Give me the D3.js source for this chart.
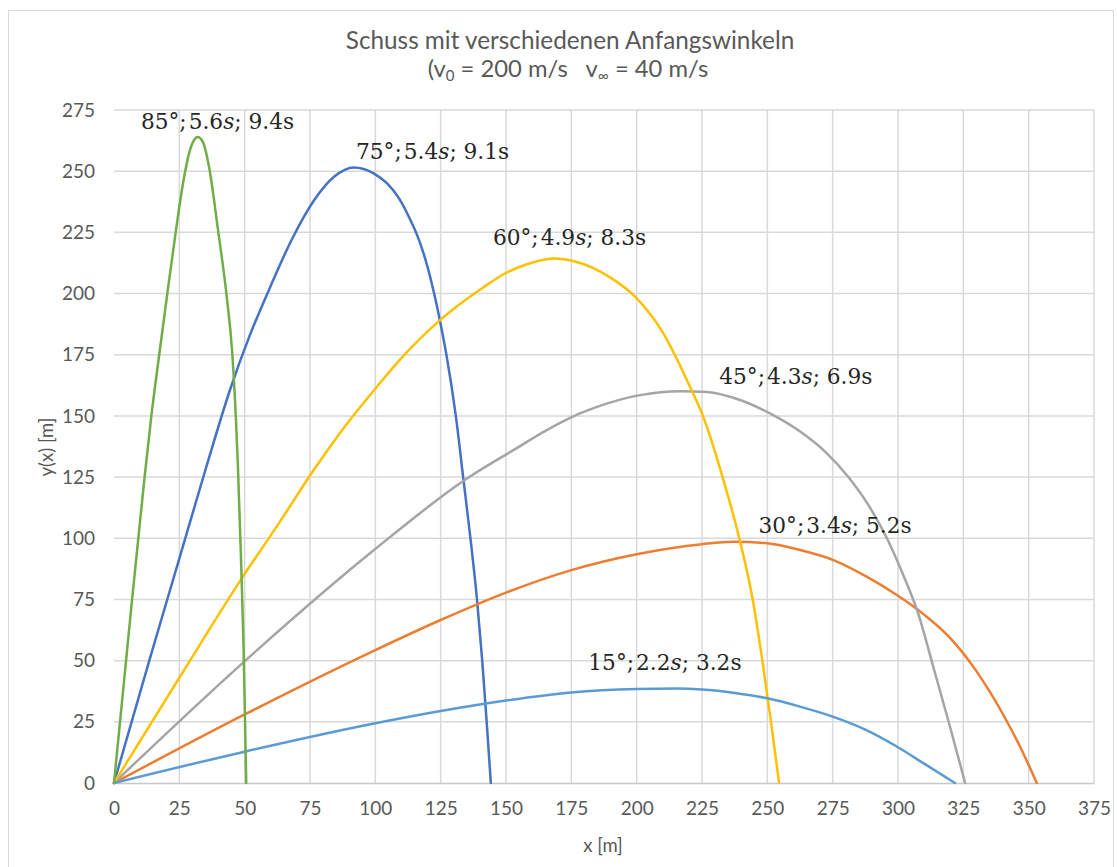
<!DOCTYPE html>
<html>
<head>
<meta charset="utf-8">
<script src="https://cdn.jsdelivr.net/npm/d3@7"></script>
<style>
  html, body { margin: 0; padding: 0; background: #ffffff; }
  svg { display: block; }
</style>
</head>
<body>
<div id="chart"></div>
<script>
// Trajectories of a projectile fired at v0 = 200 m/s with terminal velocity 40 m/s
const titleLine1 = "Schuss mit verschiedenen Anfangswinkeln";
const xTicks = [0, 25, 50, 75, 100, 125, 150, 175, 200, 225, 250, 275, 300, 325, 350, 375];
const yTicks = [0, 25, 50, 75, 100, 125, 150, 175, 200, 225, 250, 275];

// 75° (series 1)
const x75 = [0, 13.5, 24.8, 35, 44.5, 52, 59.5, 68, 76.5, 84.2, 91.8, 99.5, 104.5, 109, 113, 117, 120.2, 122.5, 125, 127.2, 130.8, 133.6, 136.4, 138.9, 140.9, 142.6, 144.2];
const y75 = [0, 50, 91, 128, 161, 183, 202, 222, 238, 247.7, 251.5, 249, 245, 239, 231, 221, 210, 200, 187.5, 175, 150, 125, 100, 75, 50, 25, 0];
// 30° (series 2)
const x30 = [0, 50, 100, 125, 150, 175, 200, 225, 237, 250, 262.5, 275.3, 288, 300, 310, 320, 330, 340, 347, 353.1];
const y30 = [0, 28, 54.3, 66.6, 77.8, 87, 93.5, 97.6, 98.6, 98, 95.2, 91.1, 84.3, 76.5, 68.8, 59.2, 45.7, 28.4, 14.2, 0];
// 45° (series 3)
const x45 = [0, 49.1, 99.5, 135.2, 152.8, 165.6, 178.3, 188.5, 201.3, 216.6, 226.8, 239.6, 251, 262, 272, 281, 289, 296, 302, 307.5, 313.5, 319.9, 325.7];
const y45 = [0, 48.9, 95.2, 124.5, 136, 144.2, 151, 155, 158.5, 160.1, 159.8, 156.5, 151, 144, 135.5, 125, 113, 99.5, 85, 70, 47.5, 23, 0];
// 60° (series 4)
const x60 = [0, 25, 48.5, 63, 76.5, 89.3, 99.5, 111, 122.5, 131.5, 141, 150.3, 159.2, 168.5, 176, 183, 190, 199.4, 210.2, 220.4, 225.5, 233.2, 239.6, 244.4, 248.1, 251.4, 254.5];
const y60 = [0, 43, 83, 106, 128, 147, 160.5, 174.8, 187, 195, 202.3, 208.6, 212.4, 214.3, 213.2, 210.6, 206.5, 198.7, 183.7, 161.9, 149.6, 123.8, 98.6, 75, 50, 25, 0];
// 15° (series 5)
const x15 = [0, 50, 100, 125, 150, 175, 200, 215, 225, 237.5, 250, 262.5, 275, 287.5, 300, 310, 321.8];
const y15 = [0, 12.8, 24.4, 29.4, 33.7, 37, 38.4, 38.6, 38.2, 36.8, 34.6, 31.2, 27.1, 21.8, 14.6, 7.9, 0];
// 85° (series 6)
const x85 = [0, 6, 11.6, 14.3, 17.3, 20.4, 23.6, 26.4, 28.9, 30.5, 32, 34, 36.5, 39.8, 43, 45.3, 46.6, 47.4, 48.5, 49.6, 50.6];
const y85 = [0, 65, 124, 150, 175, 200, 225, 245, 258, 262.5, 264, 262, 251, 226, 200, 175, 150, 130, 95, 55, 0];

// label text parts: angle, rise time, flight time
const angles = ["75", "30", "45", "60", "15", "85"];
const riseTimes = ["5.4", "3.4", "4.3", "4.9", "2.2", "5.6"];
const flightTimes = ["9.1", "5.2", "6.9", "8.3", "3.2", "9.4"];
const colors = ["#4472C4", "#ED7D31", "#A5A5A5", "#FFC000", "#5B9BD5", "#70AD47"];

const xs = [x75, x30, x45, x60, x15, x85];
const ys = [y75, y30, y45, y60, y15, y85];

const W = 1117, H = 867;
const margin = { left: 114, right: W - 1094, top: 110, bottom: H - 783 };

const svg = d3.select("#chart").append("svg")
  .attr("width", W).attr("height", H);

// chart frame
svg.append("rect")
  .attr("x", 8.5).attr("y", 10.5)
  .attr("width", 1105).attr("height", 880)
  .attr("fill", "#ffffff").attr("stroke", "#d9d9d9").attr("stroke-width", 1);

const x = d3.scaleLinear().domain([0, 375]).range([margin.left, W - margin.right]);
const y = d3.scaleLinear().domain([0, 275]).range([H - margin.bottom, margin.top]);

const tickFont = "Lato, 'Open Sans', sans-serif";
const textColor = "#595959";

// vertical gridlines
svg.append("g")
  .selectAll("line").data(xTicks.filter(d => d > 0)).join("line")
  .attr("x1", d => x(d)).attr("x2", d => x(d))
  .attr("y1", y(275)).attr("y2", y(0))
  .attr("stroke", "#d9d9d9").attr("stroke-width", 1.5);

// horizontal gridlines
svg.append("g")
  .selectAll("line").data(yTicks.filter(d => d > 0)).join("line")
  .attr("x1", x(0)).attr("x2", x(375))
  .attr("y1", d => y(d)).attr("y2", d => y(d))
  .attr("stroke", "#d9d9d9").attr("stroke-width", 1.5);

// x axis baseline and labels
const xAxis = d3.axisBottom(x).tickValues(xTicks).tickSize(0).tickPadding(19);
const gx = svg.append("g").attr("transform", `translate(0,${y(0)})`).call(xAxis);
gx.select(".domain").attr("stroke", "#c8c8c8").attr("stroke-width", 1.5);
gx.selectAll("text").attr("font-family", tickFont).attr("font-size", 19).attr("fill", textColor);

// y axis labels
const yAxis = d3.axisLeft(y).tickValues(yTicks).tickSize(0).tickPadding(19);
const gy = svg.append("g").attr("transform", `translate(${x(0)},0)`).call(yAxis);
gy.select(".domain").remove();
gy.selectAll("text").attr("font-family", tickFont).attr("font-size", 19).attr("fill", textColor);

// trajectories
const line = d3.line()
  .x(d => x(d[0])).y(d => y(d[1]))
  .curve(d3.curveMonotoneX);

xs.forEach((xv, i) => {
  const pts = xv.map((v, j) => [v, ys[i][j]]);
  svg.append("path")
    .datum(pts)
    .attr("d", line)
    .attr("fill", "none")
    .attr("stroke", colors[i])
    .attr("stroke-width", 2.5)
    .attr("stroke-linejoin", "round")
    .attr("stroke-linecap", "round");
});

// curve annotations: anchor points in data units
const labelX = [92.6, 246.6, 231.6, 145, 181.5, 10.3];
const labelY = [255, 102, 163, 220, 46, 267.1];
const labelFont = "'DejaVu Serif', 'Liberation Serif', serif";

angles.forEach((a, i) => {
  const t = svg.append("text")
    .attr("x", x(labelX[i])).attr("y", y(labelY[i]))
    .attr("font-family", labelFont).attr("font-size", 21.7)
    .attr("fill", "#262626");
  t.append("tspan").text(a + "°;");
  t.append("tspan").text(riseTimes[i]).attr("dx", 2);
  t.append("tspan").text("s").attr("font-style", "italic");
  t.append("tspan").text("; " + flightTimes[i] + "s");
});

// title
svg.append("text")
  .attr("x", 570).attr("y", 49)
  .attr("text-anchor", "middle")
  .attr("font-family", tickFont).attr("font-size", 24.3)
  .attr("fill", textColor)
  .text(titleLine1);

const sub = svg.append("text")
  .attr("x", 568).attr("y", 77)
  .attr("text-anchor", "middle")
  .attr("font-family", tickFont).attr("font-size", 23.8)
  .attr("fill", textColor)
  .attr("xml:space", "preserve");
sub.append("tspan").text("(v");
sub.append("tspan").text("0").attr("font-size", 15).attr("dy", 4);
sub.append("tspan").text(" = 200 m/s   v").attr("dy", -4);
sub.append("tspan").text("∞").attr("font-size", 15).attr("dy", 4);
sub.append("tspan").text(" = 40 m/s").attr("dy", -4);

// axis titles
svg.append("text")
  .attr("x", 603).attr("y", 852)
  .attr("text-anchor", "middle")
  .attr("font-family", tickFont).attr("font-size", 18.5)
  .attr("fill", textColor)
  .text("x [m]");

svg.append("text")
  .attr("transform", `translate(53,447) rotate(-90)`)
  .attr("text-anchor", "middle")
  .attr("font-family", tickFont).attr("font-size", 18.5)
  .attr("fill", textColor)
  .text("y(x) [m]");
</script>
</body>
</html>
